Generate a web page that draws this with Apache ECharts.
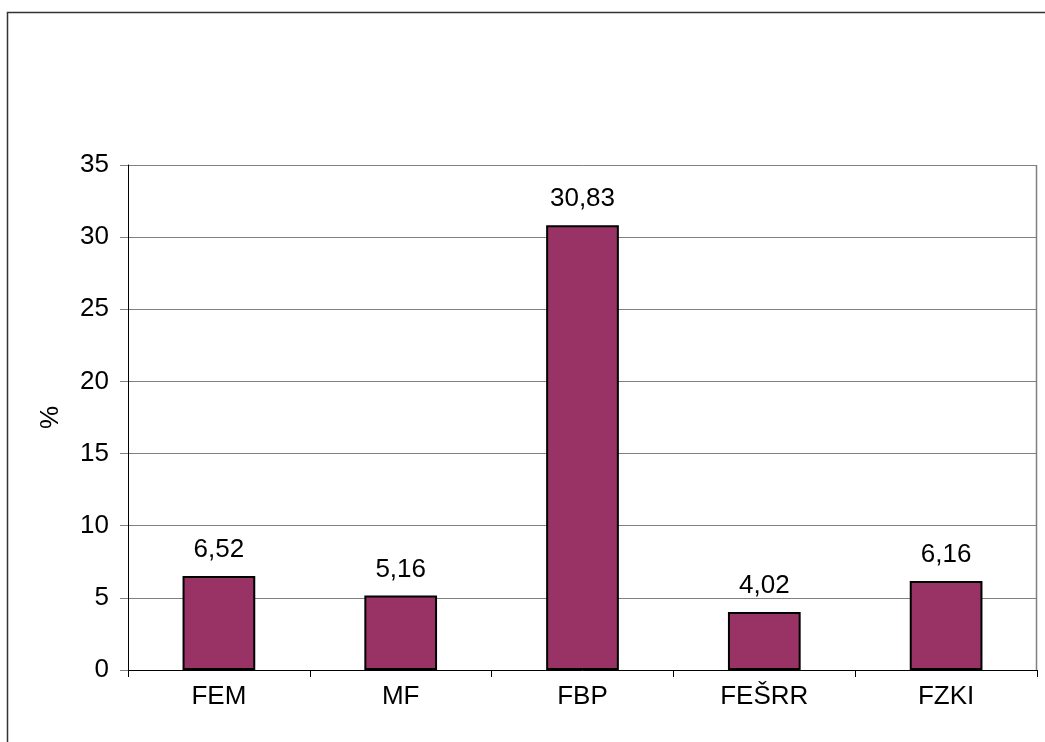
<!DOCTYPE html>
<html>
<head>
<meta charset="utf-8">
<script src="https://cdn.jsdelivr.net/npm/echarts@6/dist/echarts.min.js"></script>
<style>
html,body{margin:0;padding:0;background:#fff;}
#c{width:1045px;height:742px;}
</style>
</head>
<body>
<div id="c"></div>
<script>
var categories = ['FEM', 'MF', 'FBP', 'FEŠRR', 'FZKI'];
var values = [6.52, 5.16, 30.83, 4.02, 6.16];
var yAxisName = '%';
var yTicks = [0, 5, 10, 15, 20, 25, 30, 35];

var chart = echarts.init(document.getElementById('c'), null, {renderer: 'canvas'});
var font = 'Liberation Sans, Arial, sans-serif';
chart.setOption({
  animation: false,
  backgroundColor: '#fff',
  graphic: [{
    type: 'rect', z: 100,
    shape: {x: 7.5, y: 12.5, width: 1200, height: 900},
    style: {fill: 'none', stroke: '#333', lineWidth: 1.5}
  }, {
    type: 'line', z: 1,
    shape: {x1: 1036.5, y1: 165, x2: 1036.5, y2: 670},
    style: {stroke: '#808080', lineWidth: 1.5}
  }],
  grid: {left: 128, right: 8, top: 165, bottom: 72, containLabel: false},
  xAxis: {
    type: 'category',
    data: categories,
    axisLine: {lineStyle: {color: '#000', width: 1}},
    axisTick: {show: true, length: 7, lineStyle: {color: '#000'}},
    axisLabel: {color: '#000', fontSize: 26, fontFamily: font, margin: 14}
  },
  yAxis: {
    type: 'value',
    min: 0, max: 35, interval: 5,
    name: yAxisName,
    nameLocation: 'middle',
    nameGap: 64,
    nameRotate: 90,
    nameTextStyle: {color: '#000', fontSize: 26, fontFamily: font},
    axisLine: {show: true, lineStyle: {color: '#000', width: 1}},
    axisTick: {show: true, length: 8, lineStyle: {color: '#808080'}},
    axisLabel: {color: '#000', fontSize: 26, fontFamily: font, margin: 19,
      formatter: function (v) { return yTicks.indexOf(v) >= 0 ? String(v) : ''; }},
    splitLine: {show: true, lineStyle: {color: '#808080', width: 1}}
  },
  series: [{
    type: 'bar',
    data: values,
    barWidth: '40%',
    itemStyle: {color: '#993366', borderColor: '#000', borderWidth: 2},
    label: {
      show: true, position: 'top', distance: 13,
      color: '#000', fontSize: 26, fontFamily: font,
      formatter: function (p) { return String(p.value).replace('.', ','); }
    }
  }]
});
</script>
</body>
</html>
